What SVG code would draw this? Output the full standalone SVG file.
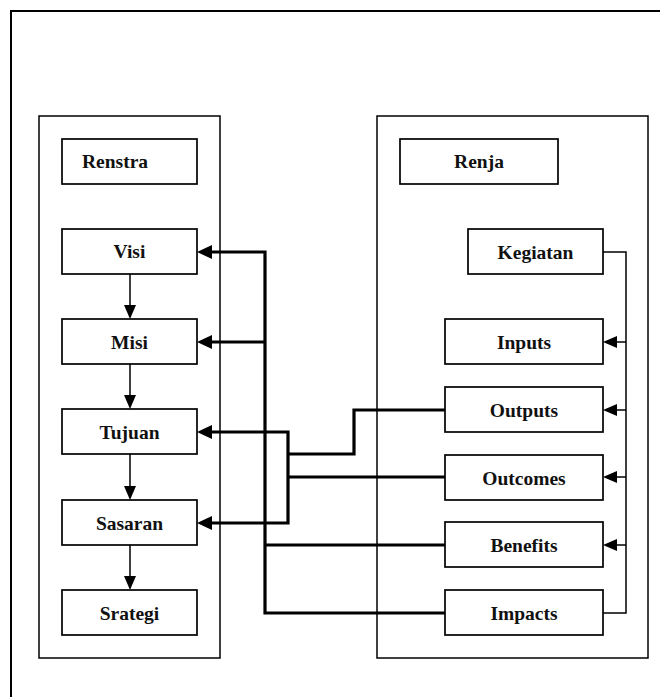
<svg xmlns="http://www.w3.org/2000/svg" width="660" height="697" viewBox="0 0 660 697">
  <style>
    .frame { fill: none; stroke: #000; stroke-width: 2; }
    .panel { fill: none; stroke: #000; stroke-width: 1.5; }
    .box rect { fill: #fff; stroke: #000; stroke-width: 1.7; }
    .box text { font-family: "Liberation Serif", "Times New Roman", serif; font-weight: bold; font-size: 19.5px; fill: #111; text-anchor: middle; }
    .thin { fill: none; stroke: #000; stroke-width: 1.5; }
    .thick { fill: none; stroke: #000; stroke-width: 3.2; stroke-linejoin: miter; }
  </style>
  <defs>
    <marker id="headSmall" markerUnits="userSpaceOnUse" markerWidth="15" markerHeight="13" refX="5" refY="6" orient="auto-start-reverse">
      <path d="M0,0 L14,6 L0,12 z" fill="#000"/>
    </marker>
    <marker id="headLarge" markerUnits="userSpaceOnUse" markerWidth="16" markerHeight="15" refX="5" refY="7" orient="auto-start-reverse">
      <path d="M0,0 L15,7 L0,14 z" fill="#000"/>
    </marker>
  </defs>

  <rect width="660" height="697" fill="#fff"/>

  <!-- outer page frame (runs off the right and bottom edges) -->
  <path class="frame" d="M11,700 V11 H665"/>

  <!-- panels -->
  <rect class="panel" x="39" y="116" width="181" height="542"/>
  <rect class="panel" x="377" y="116" width="271" height="542"/>

  <!-- connectors -->
  <g id="connectors">
    <!-- Renstra chain -->
    <path class="thin" d="M130,274 V310" marker-end="url(#headSmall)"/>
    <path class="thin" d="M130,364 V400" marker-end="url(#headSmall)"/>
    <path class="thin" d="M130,454 V491" marker-end="url(#headSmall)"/>
    <path class="thin" d="M130,545 V581" marker-end="url(#headSmall)"/>

    <!-- Renja chain -->
    <path class="thin" d="M603,252 H626 V613 H603"/>
    <path class="thin" d="M626,342 H612" marker-end="url(#headSmall)"/>
    <path class="thin" d="M626,410 H612" marker-end="url(#headSmall)"/>
    <path class="thin" d="M626,477 H612" marker-end="url(#headSmall)"/>
    <path class="thin" d="M626,545 H612" marker-end="url(#headSmall)"/>

    <!-- Benefits/Impacts to Visi/Misi -->
    <path class="thick" d="M207,252 H265 V613 H445" marker-start="url(#headLarge)"/>
    <path class="thick" d="M265,342 H207" marker-end="url(#headLarge)"/>
    <path class="thick" d="M265,545 H445"/>

    <!-- Outputs/Outcomes to Tujuan/Sasaran -->
    <path class="thick" d="M207,432 H288 V523 H207" marker-start="url(#headLarge)" marker-end="url(#headLarge)"/>
    <path class="thick" d="M288,454 H354 V410 H445"/>
    <path class="thick" d="M288,477 H445"/>
  </g>

  <!-- Renstra side -->
  <g id="renstra" class="box">
    <rect x="62" y="139" width="135" height="45"/>
    <text x="82" y="168" style="text-anchor:start">Renstra</text>
  </g>
  <g id="visi" class="box">
    <rect x="62" y="229" width="135" height="45"/>
    <text x="129.5" y="258">Visi</text>
  </g>
  <g id="misi" class="box">
    <rect x="62" y="319" width="135" height="45"/>
    <text x="129.5" y="349">Misi</text>
  </g>
  <g id="tujuan" class="box">
    <rect x="62" y="409" width="135" height="45"/>
    <text x="129.5" y="439">Tujuan</text>
  </g>
  <g id="sasaran" class="box">
    <rect x="62" y="500" width="135" height="45"/>
    <text x="129.5" y="530">Sasaran</text>
  </g>
  <g id="strategi" class="box">
    <rect x="62" y="590" width="135" height="45"/>
    <text x="129.5" y="620">Srategi</text>
  </g>

  <!-- Renja side -->
  <g id="renja" class="box">
    <rect x="400" y="139" width="158" height="45"/>
    <text x="479" y="168">Renja</text>
  </g>
  <g id="kegiatan" class="box">
    <rect x="468" y="229" width="135" height="45"/>
    <text x="535.5" y="259">Kegiatan</text>
  </g>
  <g id="inputs" class="box">
    <rect x="445" y="319" width="158" height="45"/>
    <text x="524" y="349">Inputs</text>
  </g>
  <g id="outputs" class="box">
    <rect x="445" y="387" width="158" height="45"/>
    <text x="524" y="417">Outputs</text>
  </g>
  <g id="outcomes" class="box">
    <rect x="445" y="455" width="158" height="45"/>
    <text x="524" y="485">Outcomes</text>
  </g>
  <g id="benefits" class="box">
    <rect x="445" y="522" width="158" height="45"/>
    <text x="524" y="552">Benefits</text>
  </g>
  <g id="impacts" class="box">
    <rect x="445" y="590" width="158" height="45"/>
    <text x="524" y="620">Impacts</text>
  </g>
</svg>
